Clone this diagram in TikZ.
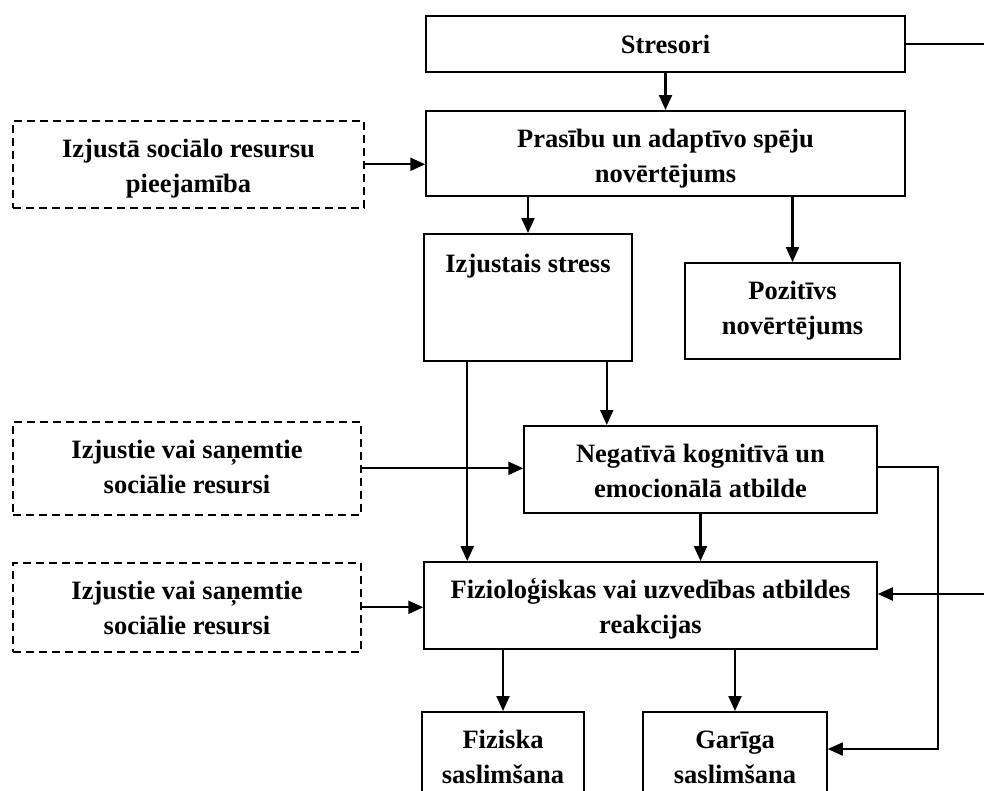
\documentclass[tikz,border=0pt]{standalone}
\usepackage{fontspec}
\setmainfont{Liberation Serif}
\usetikzlibrary{arrows.meta,positioning,calc}

\begin{document}
\begin{tikzpicture}[
  x=1pt,y=-1pt,
  font=\bfseries\fontsize{26.5}{35.5}\selectfont,
  >={Triangle[length=15pt,width=13pt]},
  blk/.style={
    draw=black,
    line width=1.5pt,
    fill=white,
    align=center,
    inner sep=0pt,
    anchor=north
  },
  twoline/.style={text height=72pt},
  socbox/.style={
    blk,
    twoline,
    line width=1.6pt,
    dash pattern=on 8pt off 5pt
  },
  link/.style={->,line width=2.2pt}
]
\useasboundingbox (0,0) rectangle (984,790);
\clip (0,0) rectangle (984,790);

% Main chain (placed by top edge)
\node[blk,anchor=center,minimum width=479,minimum height=56] (stresori) at (665.5,44) {Stresori};
\node[blk,twoline,minimum width=479,text depth=13pt] (prasibu) at (665.5,110)
  {Prasību un adaptīvo spēju\\novērtējums};
\node[blk,minimum width=208,text height=39pt,text depth=88pt] (stress) at (528,233)
  {Izjustais stress};
\node[blk,twoline,minimum width=215,text depth=24pt] (pozitivs) at (792.5,262)
  {Pozitīvs\\novērtējums};
\node[blk,twoline,minimum width=353,text depth=15pt] (negativa) at (700.5,425)
  {Negatīvā kognitīvā un\\emocionālā atbilde};
\node[blk,twoline,minimum width=453,text depth=15pt] (fiziol) at (650.5,561)
  {Fizioloģiskas vai uzvedības atbildes\\reakcijas};
\node[blk,twoline,minimum width=162,text depth=60pt] (fiziska) at (503,711)
  {Fiziska\\saslimšana};
\node[blk,twoline,minimum width=184,text depth=60pt] (gariga) at (735,711)
  {Garīga\\saslimšana};

% Social resources (dashed)
\node[socbox,minimum width=351,text depth=15pt] (pieejamiba) at (188.5,120)
  {Izjustā sociālo resursu\\pieejamība};
\node[socbox,minimum width=348,text depth=21pt] (resursiA) at (187,421)
  {Izjustie vai saņemtie\\sociālie resursi};
\node[socbox,minimum width=348,text depth=17pt] (resursiB) at (187,562)
  {Izjustie vai saņemtie\\sociālie resursi};

% Loose ends and corners
\coordinate (outR) at (984,44);
\coordinate (inR) at (984,594);
\coordinate (turn) at (938,467);
\coordinate (turnB) at (938,749);

% Connectors
\draw[line width=1.6pt] (stresori.east) -- (outR);
\draw[link] (stresori) -- (prasibu);
\draw[link] (pieejamiba.east) -- (pieejamiba.east -| prasibu.west);
\draw[link] (stress.north |- prasibu.south) -- (stress.north);
\draw[link] (pozitivs.north |- prasibu.south) -- (pozitivs.north);
\draw[link] ([xshift=-26pt]stress.south east) -- ([xshift=-26pt]stress.south east |- negativa.north);
\draw[link] ([xshift=44pt]stress.south west) -- ([xshift=44pt]stress.south west |- fiziol.north);
\draw[link] (resursiA.east) -- (resursiA.east -| negativa.west);
\draw[link] (negativa.south) -- (negativa.south |- fiziol.north);
\draw[link] (resursiB.east) -- (resursiB.east -| fiziol.west);
\draw[link] (inR) -- (inR -| fiziol.east);
\draw[->,line width=1.6pt] (negativa.east |- turn) -- (turn) -- (turnB) -- (turnB -| gariga.east);
\draw[link] (fiziska.north |- fiziol.south) -- (fiziska.north);
\draw[link] (gariga.north |- fiziol.south) -- (gariga.north);
\end{tikzpicture}
\end{document}
